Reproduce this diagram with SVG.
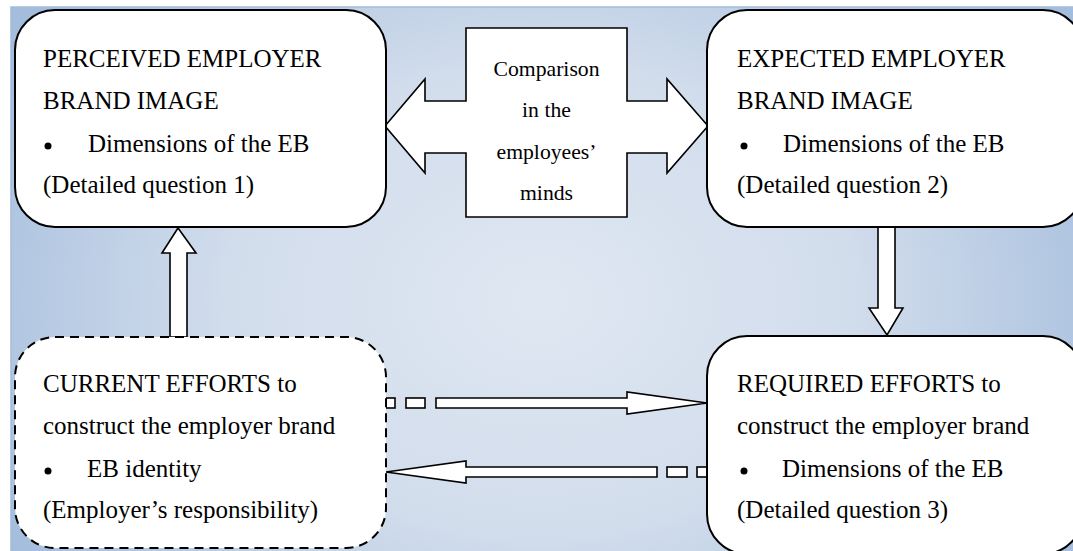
<svg xmlns="http://www.w3.org/2000/svg" width="1073" height="551" viewBox="0 0 1073 551">
<defs>
<radialGradient id="bg" cx="540" cy="300" r="620" gradientUnits="userSpaceOnUse" gradientTransform="translate(540 300) scale(1 0.75) translate(-540 -300)">
<stop offset="0" stop-color="#dfe7f2"/>
<stop offset="0.5" stop-color="#d2ddec"/>
<stop offset="1" stop-color="#a4bddd"/>
</radialGradient>
<style>
.box{fill:#fff;stroke:#000;stroke-width:2}
.dash{stroke-dasharray:9 6}
.arr{fill:#fff;stroke:#000;stroke-width:1.6;stroke-linejoin:miter}
.t{font-family:'Liberation Serif','Times New Roman',serif;font-size:25px;fill:#000}
.c{font-family:'Liberation Serif','Times New Roman',serif;font-size:21.7px;fill:#000;text-anchor:middle}
</style>
</defs>
<rect x="11" y="7" width="1070" height="552" fill="url(#bg)" stroke="#a4bcdc" stroke-width="1.5"/>

<g id="connectors">
<polygon class="arr" points="170,337 170,253 162,253 178,228 196,253 187,253 187,337"/>
<polygon class="arr" points="878,227 878,308 869,308 887,335 903,308 895,308 895,227"/>
<g id="arrow-current-to-required">
<rect class="arr" x="386" y="398" width="9" height="10"/>
<rect class="arr" x="406" y="398" width="19" height="10"/>
<polygon class="arr" points="436,398 627,398 627,392 707,403 627,414 627,408 436,408"/>
</g>
<g id="arrow-required-to-current">
<rect class="arr" x="697" y="467" width="10" height="10"/>
<rect class="arr" x="667" y="467" width="20" height="10"/>
<polygon class="arr" points="657,467 466,467 466,461 386,472 466,483 466,477 657,477"/>
</g>
</g>

<g id="comparison">
<path class="arr" stroke-width="2" d="M385,126 L425,79 L425,101 L466,101 L466,28 L627,28 L627,101 L667,101 L667,79 L708,126 L667,173 L667,153 L627,153 L627,217 L466,217 L466,153 L425,153 L425,173 Z"/>
<text class="c" x="546.5" y="76">Comparison</text>
<text class="c" x="546.5" y="117">in the</text>
<text class="c" x="546.5" y="159">employees’</text>
<text class="c" x="546.5" y="200">minds</text>
</g>

<g id="perceived">
<rect class="box" x="15" y="10" width="371" height="217" rx="40" ry="40"/>
<text class="t" x="43" y="67">PERCEIVED EMPLOYER</text>
<text class="t" x="43" y="109">BRAND IMAGE</text>
<circle cx="48" cy="146" r="3.5"/>
<text class="t" x="88" y="152">Dimensions of the EB</text>
<text class="t" x="43" y="193">(Detailed question 1)</text>
</g>

<g id="expected">
<rect class="box" x="707" y="10" width="376" height="217" rx="40" ry="40"/>
<text class="t" x="737" y="67">EXPECTED EMPLOYER</text>
<text class="t" x="737" y="109">BRAND IMAGE</text>
<circle cx="744" cy="146" r="3.5"/>
<text class="t" x="783" y="152">Dimensions of the EB</text>
<text class="t" x="737" y="193">(Detailed question 2)</text>
</g>

<g id="current">
<rect class="box dash" x="15" y="337" width="371" height="211" rx="40" ry="40"/>
<text class="t" x="43" y="392">CURRENT EFFORTS to</text>
<text class="t" x="43" y="434">construct the employer brand</text>
<circle cx="48" cy="471" r="3.5"/>
<text class="t" x="87" y="477">EB identity</text>
<text class="t" x="43" y="518">(Employer’s responsibility)</text>
</g>

<g id="required">
<rect class="box" x="707" y="336" width="376" height="218" rx="40" ry="40"/>
<text class="t" x="737" y="392">REQUIRED EFFORTS to</text>
<text class="t" x="737" y="434">construct the employer brand</text>
<circle cx="744" cy="471" r="3.5"/>
<text class="t" x="782" y="477">Dimensions of the EB</text>
<text class="t" x="737" y="518">(Detailed question 3)</text>
</g>
</svg>
